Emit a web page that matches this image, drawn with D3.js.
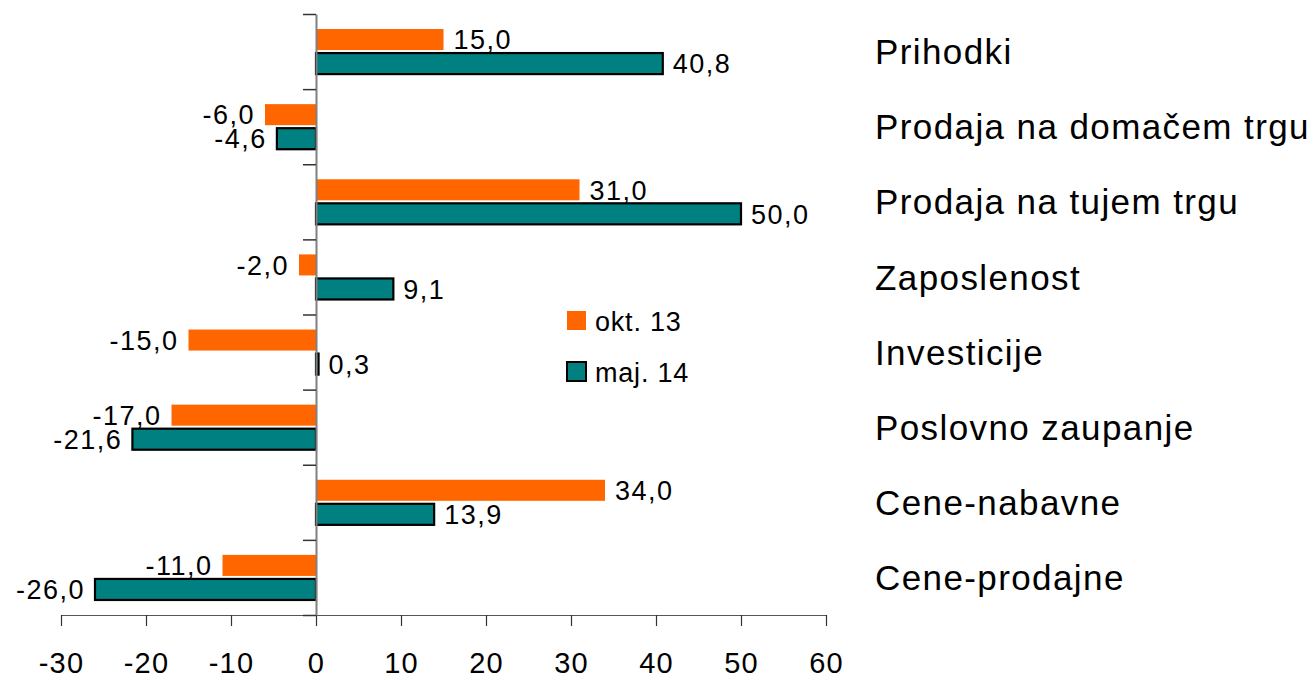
<!DOCTYPE html>
<html>
<head>
<meta charset="utf-8">
<script src="https://cdn.jsdelivr.net/npm/d3@7"></script>
<style>
  body { margin: 0; background: #fff; }
  svg { display: block; font-family: "Liberation Sans", Arial, sans-serif; }
</style>
</head>
<body>
<div id="chart"></div>
<script>
const categories = ["Prihodki", "Prodaja na domačem trgu", "Prodaja na tujem trgu", "Zaposlenost",
  "Investicije", "Poslovno zaupanje", "Cene-nabavne", "Cene-prodajne"];
const seriesNames = ["okt. 13", "maj. 14"];
const okt13 = [15.0, -6.0, 31.0, -2.0, -15.0, -17.0, 34.0, -11.0];
const maj14 = [40.8, -4.6, 50.0, 9.1, 0.3, -21.6, 13.9, -26.0];
const xTicks = [-30, -20, -10, 0, 10, 20, 30, 40, 50, 60];

const W = 1314, H = 680;
const plotLeft = 61, plotRight = 826, plotTop = 14, plotBottom = 615;
const colors = ["#ff6600", "#008080"];

const data = categories.map((c, i) => ({ cat: c, values: [okt13[i], maj14[i]] }));

const svg = d3.select("#chart").append("svg")
  .attr("width", W)
  .attr("height", H);

const x = d3.scaleLinear().domain([-30, 60]).range([plotLeft, plotRight]);

const y = d3.scaleBand()
  .domain(categories)
  .range([plotTop, plotBottom])
  .paddingInner(0.4)
  .paddingOuter(0.2);

const ySub = d3.scaleBand()
  .domain(seriesNames)
  .range([0, y.bandwidth()])
  .paddingInner(0.125);

const fmt = v => v.toFixed(1).replace(".", ",");

// x axis
const xAxis = svg.append("g")
  .attr("transform", `translate(0, ${plotBottom})`)
  .call(d3.axisBottom(x).tickValues(xTicks).tickSize(11).tickSizeOuter(0).tickPadding(26).tickFormat(d => d));
xAxis.select(".domain").attr("stroke", "#555").attr("stroke-width", 1.2);
xAxis.selectAll(".tick line").attr("stroke", "#333").attr("stroke-width", 1.2);
xAxis.selectAll(".tick text")
  .attr("font-size", 29)
  .attr("letter-spacing", 1.2)
  .attr("fill", "#000");

// bars
const groups = svg.selectAll(".cat")
  .data(data)
  .enter()
  .append("g")
  .attr("class", "cat")
  .attr("transform", d => `translate(0, ${y(d.cat)})`);

groups.selectAll("rect")
  .data(d => d.values.map((v, j) => ({ v, s: seriesNames[j], j })))
  .enter()
  .append("rect")
  .attr("x", d => x(Math.min(0, d.v)))
  .attr("y", d => ySub(d.s))
  .attr("width", d => Math.abs(x(d.v) - x(0)))
  .attr("height", ySub.bandwidth())
  .attr("fill", d => colors[d.j])
  .attr("stroke", d => d.j === 1 ? "#000" : "none")
  .attr("stroke-width", 2.2);

groups.selectAll("text.value")
  .data(d => d.values.map((v, j) => ({ v, s: seriesNames[j], j })))
  .enter()
  .append("text")
  .attr("class", "value")
  .attr("x", d => d.v >= 0 ? x(d.v) + 10 : x(d.v) - 10)
  .attr("y", d => ySub(d.s) + ySub.bandwidth() / 2)
  .attr("dy", "0.36em")
  .attr("text-anchor", d => d.v >= 0 ? "start" : "end")
  .attr("font-size", 27)
  .attr("letter-spacing", 1.5)
  .attr("fill", "#000")
  .text(d => fmt(d.v));

// y axis at zero
const yIdx = d3.scaleLinear().domain([0, categories.length]).range([plotTop, plotBottom]);
const yAxis = svg.append("g")
  .attr("transform", `translate(${x(0)}, 0)`)
  .call(d3.axisLeft(yIdx).tickValues(d3.range(categories.length + 1)).tickSize(13).tickSizeOuter(0).tickFormat(""));
yAxis.select(".domain").attr("stroke", "#808080").attr("stroke-width", 2);
yAxis.selectAll(".tick line").attr("stroke", "#333").attr("stroke-width", 1.5);

// category labels
svg.selectAll("text.cat-label")
  .data(categories)
  .enter()
  .append("text")
  .attr("class", "cat-label")
  .attr("x", 875)
  .attr("y", d => y(d) + y.bandwidth() / 2)
  .attr("dy", "0.36em")
  .attr("font-size", 35)
  .attr("letter-spacing", 1.4)
  .attr("fill", "#000")
  .text(d => d);

// legend
const legend = svg.append("g").attr("transform", "translate(567, 311)");
seriesNames.forEach((s, i) => {
  const g = legend.append("g").attr("transform", `translate(0, ${i * 51})`);
  g.append("rect")
    .attr("width", 19)
    .attr("height", 19)
    .attr("fill", colors[i])
    .attr("stroke", i === 1 ? "#000" : "none")
    .attr("stroke-width", 2);
  g.append("text")
    .attr("x", 28)
    .attr("y", 10)
    .attr("dy", "0.36em")
    .attr("font-size", 27)
    .attr("letter-spacing", 0.8)
    .attr("fill", "#000")
    .text(s);
});
</script>
</body>
</html>
